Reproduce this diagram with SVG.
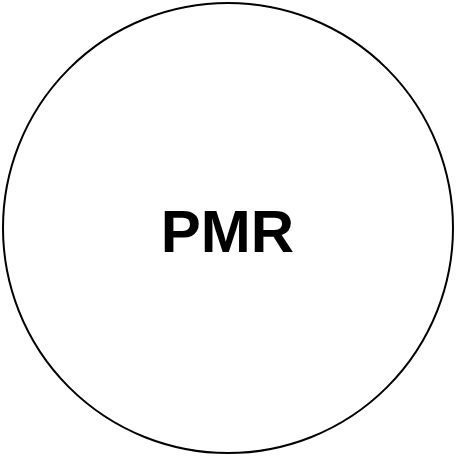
<svg xmlns="http://www.w3.org/2000/svg" width="456" height="456" viewBox="0 0 456 456">
<style>
.node-shape{fill:#ffffff;stroke:#000000;stroke-width:2}
.label{font-family:"Liberation Sans",Arial,sans-serif;font-weight:bold;font-size:60px;fill:#000000}
</style>
<rect width="456" height="456" fill="#ffffff"/>
<g id="connectors"></g>
<g id="node-pmr">
<circle class="node-shape" cx="228" cy="228" r="225"/>
<text class="label" x="227.5" y="252" text-anchor="middle">PMR</text>
</g>
</svg>
